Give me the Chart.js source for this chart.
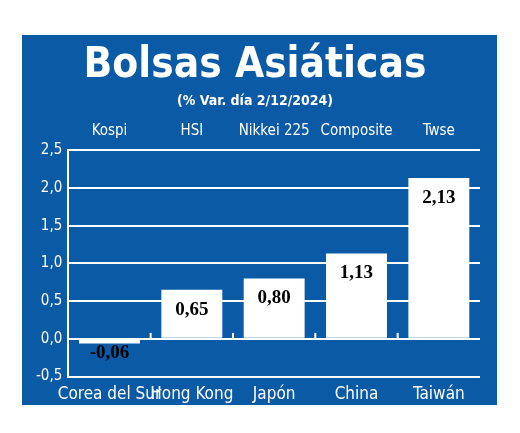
<!DOCTYPE html>
<html><head><meta charset="utf-8">
<script src="https://cdn.jsdelivr.net/npm/chart.js@4"></script>
<style>html,body{margin:0;padding:0;background:#fff;}#c{display:block;}</style>
</head><body>
<canvas id="c" width="520" height="433"></canvas>
<script>
const countries = ["Corea del Sur","Hong Kong","Japón","China","Taiwán"];
const indices = ["Kospi","HSI","Nikkei 225","Composite","Twse"];
const values = [-0.06,0.65,0.80,1.13,2.13];
const BLUE = "#0b5aa6";
const FONT = "'DejaVu Sans Condensed','DejaVu Sans',sans-serif";
const fmt = v => v.toFixed(2).replace('.', ',');

const panel = {
  id:'panel',
  beforeDraw(c){
    const ctx=c.ctx; ctx.save(); ctx.fillStyle=BLUE; ctx.fillRect(22,35,475,370); ctx.restore();
  },
  afterDatasetsDraw(c){
    const ctx=c.ctx, meta=c.getDatasetMeta(0), y=c.scales.y;
    ctx.save();
    ctx.font="bold 19px 'Liberation Serif','DejaVu Serif',serif";
    ctx.fillStyle="#000"; ctx.textAlign="center"; ctx.textBaseline="middle";
    meta.data.forEach((b,i)=>{
      const v=values[i];
      const yy = v<0 ? y.getPixelForValue(0)+14 : b.y+20;
      ctx.fillText(fmt(v), b.x, yy);
    });
    // small ticks at category boundaries on zero line
    ctx.strokeStyle="#fff"; ctx.lineWidth=2;
    const z=y.getPixelForValue(0), xs=c.scales.x;
    const w=(xs.right-xs.left)/values.length;
    for(let i=1;i<values.length;i++){const x=xs.left+w*i;ctx.beginPath();ctx.moveTo(x,z);ctx.lineTo(x,z-6);ctx.stroke();}
    ctx.restore();
  }
};

new Chart(document.getElementById('c'),{
  type:'bar',
  data:{labels:countries,datasets:[{data:values,backgroundColor:'#fff',borderWidth:0,barPercentage:0.74,categoryPercentage:1}]},
  options:{
    responsive:false,animation:false,
    layout:{padding:{left:30,right:40,top:35,bottom:28}},
    plugins:{
      legend:{display:false},tooltip:{enabled:false},
      title:{display:true,text:'Bolsas Asiáticas',color:'#fff',font:{family:FONT,size:42,weight:'bold'},padding:{top:6,bottom:2}},
      subtitle:{display:true,text:'(% Var. día 2/12/2024)',color:'#fff',font:{family:FONT,size:14,weight:'bold'},padding:{top:0,bottom:10}}
    },
    scales:{
      x:{position:'bottom',grid:{display:false},border:{display:false},
         ticks:{color:'#fff',font:{family:FONT,size:17},padding:0,maxRotation:0,autoSkip:false}},
      x2:{type:'category',labels:indices,position:'top',grid:{display:false},border:{display:false},
         ticks:{color:'#fff',font:{family:FONT,size:15},padding:2,maxRotation:0,autoSkip:false}},
      y:{min:-0.5,max:2.5,
         ticks:{stepSize:0.5,color:'#fff',font:{family:FONT,size:15},padding:6,callback:v=>v.toFixed(1).replace('.',',')},
         grid:{color:'#fff',lineWidth:2,drawTicks:false},border:{display:true,color:'#fff',width:2}}
    }
  },
  plugins:[panel]
});
</script>
</body></html>
